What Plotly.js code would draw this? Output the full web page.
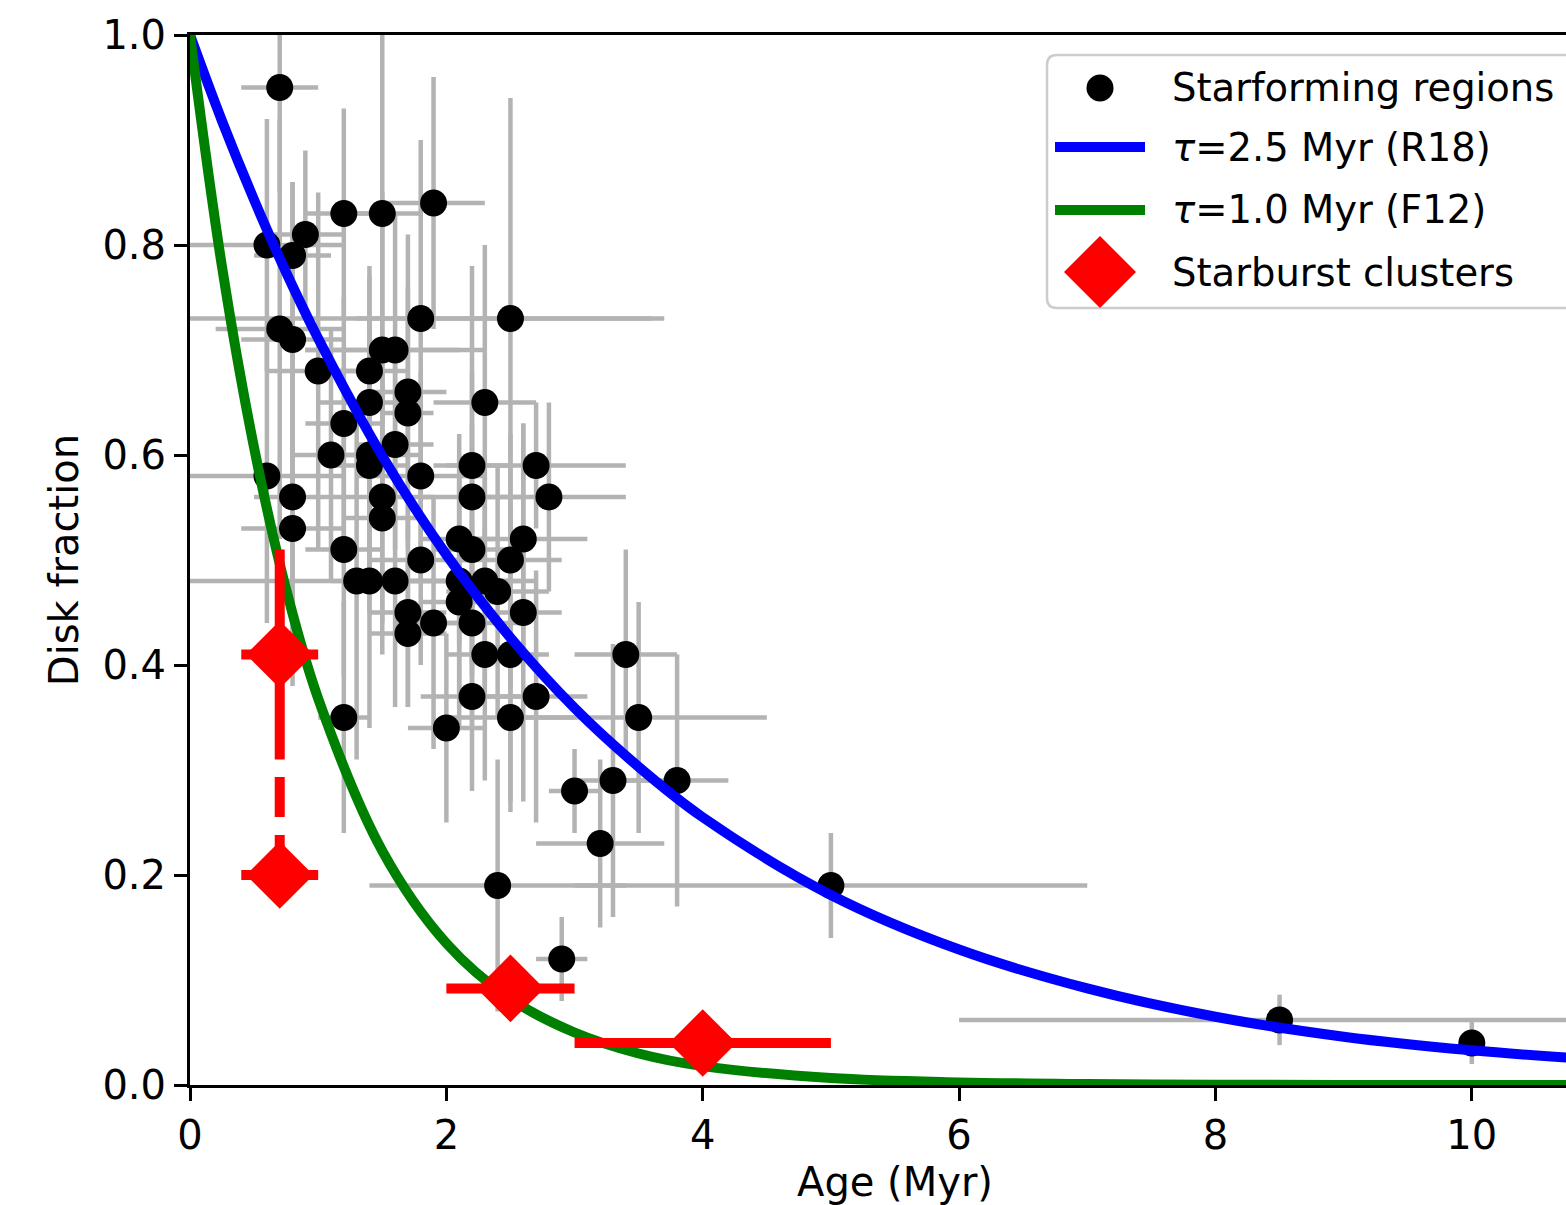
<!DOCTYPE html>
<html>
<head>
<meta charset="utf-8">
<script src="https://cdn.plot.ly/plotly-3.0.1.min.js"></script>
<style>
  html, body { margin: 0; padding: 0; background: #ffffff; overflow: hidden; }
  #chart { width: 1600px; height: 1205px; }
</style>
</head>
<body>
<div id="chart"></div>
<script>
// Star-forming regions: age (Myr), disk fraction and their uncertainties
const sfAge = [0.7, 0.6, 0.8, 0.9, 1.2, 1.5, 1.9, 0.7, 0.8, 1.0,
               1.5, 1.6, 1.8, 2.5, 1.4, 1.4, 1.2, 1.7, 1.7, 2.3,
               1.6, 1.1, 1.4, 1.4, 0.6, 1.8, 2.2, 2.7, 0.8, 1.5,
               2.2, 2.8, 1.5, 0.8, 2.1, 2.6, 1.2, 2.2, 1.8, 2.5,
               1.3, 1.4, 1.6, 2.1, 2.3, 2.4, 2.1, 2.6, 1.7, 2.2,
               1.9, 1.7, 2.3, 2.5, 3.4, 2.2, 2.7, 1.2, 2.5, 3.5,
               2.0, 3.3, 3.8, 3.0, 3.2, 2.4, 5.0, 2.9, 8.5, 10.0];
const sfFrac = [0.95, 0.80, 0.79, 0.81, 0.83, 0.83, 0.84, 0.72, 0.71, 0.68,
                0.70, 0.70, 0.73, 0.73, 0.68, 0.65, 0.63, 0.66, 0.64, 0.65,
                0.61, 0.60, 0.60, 0.59, 0.58, 0.58, 0.59, 0.59, 0.56, 0.56,
                0.56, 0.56, 0.54, 0.53, 0.52, 0.52, 0.51, 0.51, 0.50, 0.50,
                0.48, 0.48, 0.48, 0.48, 0.48, 0.47, 0.46, 0.45, 0.45, 0.44,
                0.44, 0.43, 0.41, 0.41, 0.41, 0.37, 0.37, 0.35, 0.35, 0.35,
                0.34, 0.29, 0.29, 0.28, 0.23, 0.19, 0.19, 0.12, 0.062, 0.04];
const sfAgeErr = [0.3, 0.6, 0.3, 0.3, 0.3, 0.3, 0.4, 0.5, 0.4, 0.4,
                  0.6, 0.7, 1.8, 1.2, 0.3, 0.4, 0.3, 0.3, 0.2, 0.4,
                  0.3, 0.3, 0.4, 0.3, 0.6, 0.5, 0.3, 0.7, 0.3, 0.4,
                  0.4, 0.6, 0.3, 0.4, 0.3, 0.5, 0.3, 0.3, 0.4, 0.4,
                  1.3, 0.3, 0.3, 0.4, 0.4, 0.4, 0.3, 0.3, 0.3, 0.4,
                  0.3, 0.3, 0.3, 0.3, 0.4, 0.4, 0.4, 0.2, 0.5, 1.0,
                  0.3, 0.3, 0.4, 0.2, 0.5, 1.0, 2.0, 0.2, 2.5, 0.0];
const sfFracErr = [0.10, 0.12, 0.07, 0.08, 0.10, 0.20, 0.12, 0.20, 0.15, 0.17,
                   0.15, 0.13, 0.17, 0.21, 0.10, 0.12, 0.12, 0.15, 0.12, 0.15,
                   0.10, 0.12, 0.12, 0.14, 0.14, 0.10, 0.19, 0.06, 0.14, 0.12,
                   0.12, 0.09, 0.13, 0.15, 0.10, 0.11, 0.12, 0.12, 0.10, 0.12,
                   0.17, 0.14, 0.12, 0.12, 0.10, 0.12, 0.12, 0.18, 0.09, 0.10,
                   0.12, 0.07, 0.12, 0.14, 0.10, 0.09, 0.12, 0.11, 0.09, 0.11,
                   0.09, 0.13, 0.12, 0.04, 0.08, 0.12, 0.05, 0.04, 0.024, 0.02];

// Starburst clusters
const sbAge = [0.7, 0.7, 2.5, 4.0];
const sbFrac = [0.41, 0.20, 0.092, 0.04];
const sbAgeErr = [0.3, 0.3, 0.5, 1.0];
const sbFracErr = [0.10, 0.0, 0.0, 0.0];

// Disk-fraction decay curves sampled along the age axis
const curveAge = [0, 0.25, 0.5, 0.75, 1, 1.5, 2, 2.5, 3, 3.5, 4, 5, 6, 7, 8, 9, 10, 11];
const fracR18 = [1.000, 0.918, 0.843, 0.774, 0.711, 0.599, 0.505, 0.426, 0.359, 0.303,
                 0.255, 0.181, 0.129, 0.092, 0.065, 0.046, 0.033, 0.024];
const fracF12 = [1.000, 0.779, 0.607, 0.472, 0.368, 0.223, 0.135, 0.082, 0.050, 0.030,
                 0.018, 0.0067, 0.0025, 0.0009, 0.0003, 0.0001, 0.00005, 0.00002];

const legendLabels = ['Starforming regions', '<i>τ</i>=2.5 Myr (R18)', '<i>τ</i>=1.0 Myr (F12)', 'Starburst clusters'];
const xTicks = [0, 2, 4, 6, 8, 10];
const yTicks = [0.0, 0.2, 0.4, 0.6, 0.8, 1.0];

const FONT = 'DejaVu Sans, Liberation Sans, sans-serif';
const FS = 40;
const LEG_FS = 38.5;
const GRAY = '#b3b3b3';

const traces = [
  {
    x: sfAge, y: sfFrac, type: 'scatter', mode: 'markers',
    marker: { color: '#000000', size: 27, line: { width: 0 } },
    error_x: { type: 'data', array: sfAgeErr, color: GRAY, thickness: 4.5, width: 0 },
    error_y: { type: 'data', array: sfFracErr, color: GRAY, thickness: 4.5, width: 0 },
    showlegend: false, hoverinfo: 'x+y'
  },
  {
    x: curveAge, y: fracR18, type: 'scatter', mode: 'lines',
    line: { color: '#0000ff', width: 10, shape: 'spline', smoothing: 1 },
    showlegend: false
  },
  {
    x: curveAge, y: fracF12, type: 'scatter', mode: 'lines',
    line: { color: '#008000', width: 10, shape: 'spline', smoothing: 1 },
    showlegend: false
  },
  {
    // dashed range joining the lower bound of the young cluster to its second estimate
    x: [sbAge[1], sbAge[0]],
    y: [sbFrac[1], sbFrac[0] - sbFracErr[0]],
    type: 'scatter', mode: 'lines',
    line: { color: '#ff0000', width: 10, dash: '40px,18px' },
    showlegend: false, hoverinfo: 'skip'
  },
  {
    x: sbAge, y: sbFrac, type: 'scatter', mode: 'markers',
    marker: { color: '#ff0000', symbol: 'diamond', size: 52, line: { width: 0 } },
    error_x: { type: 'data', array: sbAgeErr, color: '#ff0000', thickness: 10, width: 0 },
    error_y: { type: 'data', array: sbFracErr, color: '#ff0000', thickness: 10, width: 0 },
    showlegend: false
  }
];

// Figure 1600 px wide (right edge falls outside the 1566 px view); plot area left 190, top 35
const FIG_W = 1600, FIG_H = 1205;
const L = 190, T = 35, W = 1410, H = 1050;
const px = v => (v - L) / W;
const py = v => (T + H - v) / H;

// Hand-built legend (frame, symbols, labels)
const lx0 = px(1047), lx1 = px(1590), ly0 = py(308), ly1 = py(55);
const rx = 10 / W, ry = 10 / H;
const framePath = `M ${lx0 + rx},${ly1} L ${lx1 - rx},${ly1} Q ${lx1},${ly1} ${lx1},${ly1 - ry} ` +
  `L ${lx1},${ly0 + ry} Q ${lx1},${ly0} ${lx1 - rx},${ly0} L ${lx0 + rx},${ly0} ` +
  `Q ${lx0},${ly0} ${lx0},${ly0 + ry} L ${lx0},${ly1 - ry} Q ${lx0},${ly1} ${lx0 + rx},${ly1} Z`;
const rowY = [py(88), py(147), py(210), py(272)];
const symX = px(1100);

const shapes = [
  { type: 'path', xref: 'paper', yref: 'paper', path: framePath,
    fillcolor: 'rgba(255,255,255,0.85)', line: { color: '#cccccc', width: 2.5 }, layer: 'above' },
  { type: 'circle', xref: 'paper', yref: 'paper', xsizemode: 'pixel', ysizemode: 'pixel',
    xanchor: symX, yanchor: rowY[0], x0: -13.5, x1: 13.5, y0: -13.5, y1: 13.5,
    fillcolor: '#000000', line: { width: 0 }, layer: 'above' },
  { type: 'line', xref: 'paper', yref: 'paper', x0: px(1055), x1: px(1145), y0: rowY[1], y1: rowY[1],
    line: { color: '#0000ff', width: 10 }, layer: 'above' },
  { type: 'line', xref: 'paper', yref: 'paper', x0: px(1055), x1: px(1145), y0: rowY[2], y1: rowY[2],
    line: { color: '#008000', width: 10 }, layer: 'above' },
  { type: 'path', xref: 'paper', yref: 'paper', xsizemode: 'pixel', ysizemode: 'pixel',
    xanchor: symX, yanchor: rowY[3], path: 'M -36,0 L 0,36 L 36,0 L 0,-36 Z',
    fillcolor: '#ff0000', line: { width: 0 }, layer: 'above' }
];

const annotations = legendLabels.map((t, i) => ({
  xref: 'paper', yref: 'paper', x: px(1170), y: rowY[i],
  xanchor: 'left', yanchor: 'middle', text: t, showarrow: false,
  font: { family: FONT, size: LEG_FS, color: '#000000' }
}));

const axisCommon = {
  showgrid: false, zeroline: false, showline: true, linecolor: '#000000', linewidth: 3,
  ticks: 'outside', ticklen: 13, tickwidth: 3, tickcolor: '#000000',
  tickfont: { family: FONT, size: FS, color: '#000000' }
};

const layout = {
  width: FIG_W, height: FIG_H,
  margin: { l: L, r: FIG_W - L - W, t: T, b: FIG_H - T - H, pad: 0 },
  paper_bgcolor: '#ffffff', plot_bgcolor: '#ffffff',
  showlegend: false,
  xaxis: Object.assign({}, axisCommon, {
    range: [0, 11.0], tickmode: 'array', tickvals: xTicks, ticktext: xTicks.map(String),
    mirror: true,
    title: { text: 'Age (Myr)', font: { family: FONT, size: FS, color: '#000000' }, standoff: 12 }
  }),
  yaxis: Object.assign({}, axisCommon, {
    range: [0, 1.0], tickmode: 'array', tickvals: yTicks, ticktext: yTicks.map(v => v.toFixed(1)),
    mirror: true,
    title: { text: 'Disk fraction', font: { family: FONT, size: FS, color: '#000000' }, standoff: 12 }
  }),
  shapes: shapes,
  annotations: annotations
};

Plotly.newPlot('chart', traces, layout, { displayModeBar: false, staticPlot: true });
</script>
</body>
</html>
